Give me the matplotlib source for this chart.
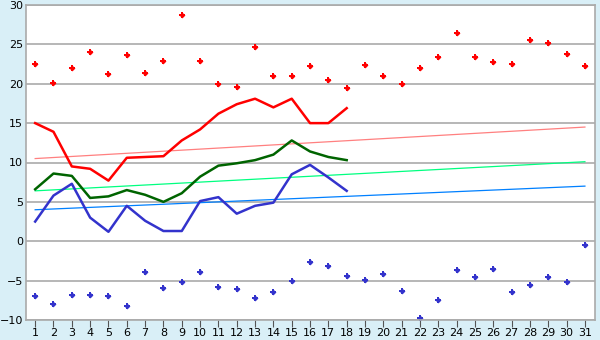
import matplotlib
matplotlib.use("Agg")
import matplotlib.pyplot as plt

days = list(range(1, 32))
line_days = list(range(1, 19))

# hoechstwerte (punkte)
max_pts = [22.5, 20.1, 22.0, 24.0, 21.3, 23.7, 21.4, 22.9, 28.7, 22.9,
           20.0, 19.6, 24.7, 21.0, 21.0, 22.2, 20.5, 19.5, 22.4, 21.0,
           20.0, 22.0, 23.4, 26.5, 23.4, 22.8, 22.5, 25.6, 25.2, 23.8, 22.2]
# tiefstwerte (punkte)
min_pts = [-7.0, -8.0, -6.8, -6.8, -7.0, -8.2, -3.9, -5.9, -5.2, -3.9,
           -5.8, -6.0, -7.2, -6.4, -5.1, -2.6, -3.1, -4.4, -4.9, -4.2,
           -6.3, -9.7, -7.4, -3.6, -4.5, -3.5, -6.4, -5.6, -4.5, -5.2, -0.5]

red_line = [15.0, 13.9, 9.5, 9.2, 7.7, 10.6, 10.7, 10.8, 12.8, 14.2,
            16.2, 17.4, 18.1, 17.0, 18.1, 15.0, 15.0, 16.9]
green_line = [6.6, 8.6, 8.3, 5.5, 5.7, 6.5, 5.9, 5.0, 6.1, 8.2,
              9.6, 9.9, 10.3, 11.0, 12.8, 11.4, 10.7, 10.3]
blue_line = [2.5, 5.8, 7.3, 3.0, 1.2, 4.5, 2.6, 1.3, 1.3, 5.1,
             5.6, 3.5, 4.5, 4.9, 8.5, 9.7, 8.1, 6.4]

trend_x = [1, 31]
red_trend = [10.5, 14.5]
green_trend = [6.4, 10.1]
blue_trend = [4.0, 7.0]

fig = plt.figure(figsize=(6, 3.4), dpi=100, facecolor="#D9EFF7")
ax = fig.add_axes([26/600, 20/340, 569/600, 315/340])
ax.set_facecolor("white")

ax.set_xlim(0.5, 31.55)
ax.set_ylim(-10, 30)
ax.set_yticks(range(-10, 31, 5))
ax.set_xticks(days)
ax.grid(axis="y", color="#AAAAAA", linewidth=1.2)
ax.set_axisbelow(True)

ax.plot(trend_x, red_trend, color="#FF8080", linewidth=0.9)
ax.plot(trend_x, green_trend, color="#00FF80", linewidth=0.9)
ax.plot(trend_x, blue_trend, color="#0080FF", linewidth=0.9)

ax.plot(line_days, red_line, color="#FF0000", linewidth=1.8)
ax.plot(line_days, green_line, color="#006400", linewidth=1.8)
ax.plot(line_days, blue_line, color="#3333CC", linewidth=1.8)

# kleine kreuz-rauten wie im original
for pts, c in [(max_pts, "#FF0000"), (min_pts, "#3333CC")]:
    ax.plot(days, pts, linestyle="none", marker="P", markersize=5,
            color=c, markeredgewidth=0)
    ax.plot(days, pts, linestyle="none", marker="D", markersize=3,
            color=c, markeredgewidth=0)

for s in ax.spines.values():
    s.set_color("#AAAAAA")
    s.set_linewidth(1.2)

ax.tick_params(axis="y", length=0, labelsize=8, pad=2)
ax.tick_params(axis="x", length=5, color="#555555", labelsize=8, pad=1)

fig.savefig("out.png", dpi=100, facecolor=fig.get_facecolor())
